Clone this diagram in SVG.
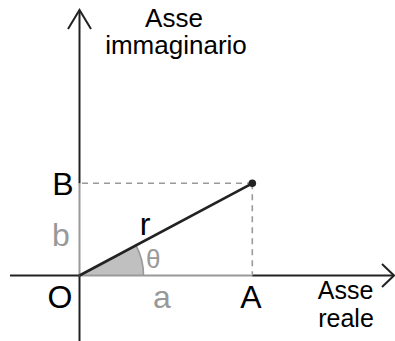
<svg xmlns="http://www.w3.org/2000/svg" width="395" height="341" viewBox="0 0 395 341">
  <style>
    .lbl { font-family: "Liberation Sans", Arial, sans-serif; fill: #000; }
    .big { font-size: 32px; text-anchor: middle; }
    .ax { font-size: 26px; text-anchor: middle; }
    .axs { font-size: 25px; text-anchor: middle; }
    .gray { fill: #999; }
    .axis { stroke: #222; stroke-width: 2; fill: none; }
    .gseg { stroke: #999; stroke-width: 2; fill: none; }
    .dash { stroke: #999; stroke-width: 1.6; stroke-dasharray: 6 5; fill: none; }
  </style>
  <rect width="395" height="341" fill="#fff"/>
  <g id="angle">
    <path d="M79.5,275.5 L143.5,275.5 A64,64 0 0 0 136,245.4 Z" fill="#c0c0c0" stroke="none"/>
    <path d="M143.5,275.5 A64,64 0 0 0 136,245.4" fill="none" stroke="#999" stroke-width="1.6"/>
  </g>
  <g id="connectors">
    <line class="axis" x1="79.5" y1="341" x2="79.5" y2="275.5"/>
    <line class="gseg" x1="79.5" y1="275.5" x2="79.5" y2="183.3"/>
    <line class="axis" x1="79.5" y1="183.3" x2="79.5" y2="11"/>
    <polyline class="axis" points="68,29 79.5,10 91,29" stroke-width="1.6"/>
    <line class="axis" x1="10" y1="275.5" x2="79.5" y2="275.5"/>
    <line class="gseg" x1="79.5" y1="275.5" x2="252.3" y2="275.5"/>
    <line class="axis" x1="252.3" y1="275.5" x2="393" y2="275.5"/>
    <polyline class="axis" points="382,264 394,275.5 382,287" stroke-width="1.6"/>
    <line class="dash" x1="82" y1="183.3" x2="252.3" y2="183.3"/>
    <line class="dash" x1="252.3" y1="183.3" x2="252.3" y2="274"/>
    <line x1="79.5" y1="275.5" x2="252.3" y2="183.3" stroke="#222" stroke-width="2.6"/>
  </g>
  <g id="P">
    <circle cx="252.3" cy="183.3" r="3.8" fill="#222"/>
  </g>
  <g id="labels">
    <text class="lbl ax" x="174" y="27">Asse</text>
    <text class="lbl ax" x="176" y="54">immaginario</text>
    <text class="lbl axs" x="345.5" y="299">Asse</text>
    <text class="lbl axs" x="346" y="327">reale</text>
    <text class="lbl big" x="63" y="194.5">B</text>
    <text class="lbl big gray" x="61" y="246">b</text>
    <text class="lbl big" x="60" y="308">O</text>
    <text class="lbl big gray" x="162" y="308">a</text>
    <text class="lbl big" x="251" y="308">A</text>
    <text class="lbl big" x="145" y="235">r</text>
    <text class="lbl gray" x="146" y="268" font-size="26">θ</text>
  </g>
</svg>
